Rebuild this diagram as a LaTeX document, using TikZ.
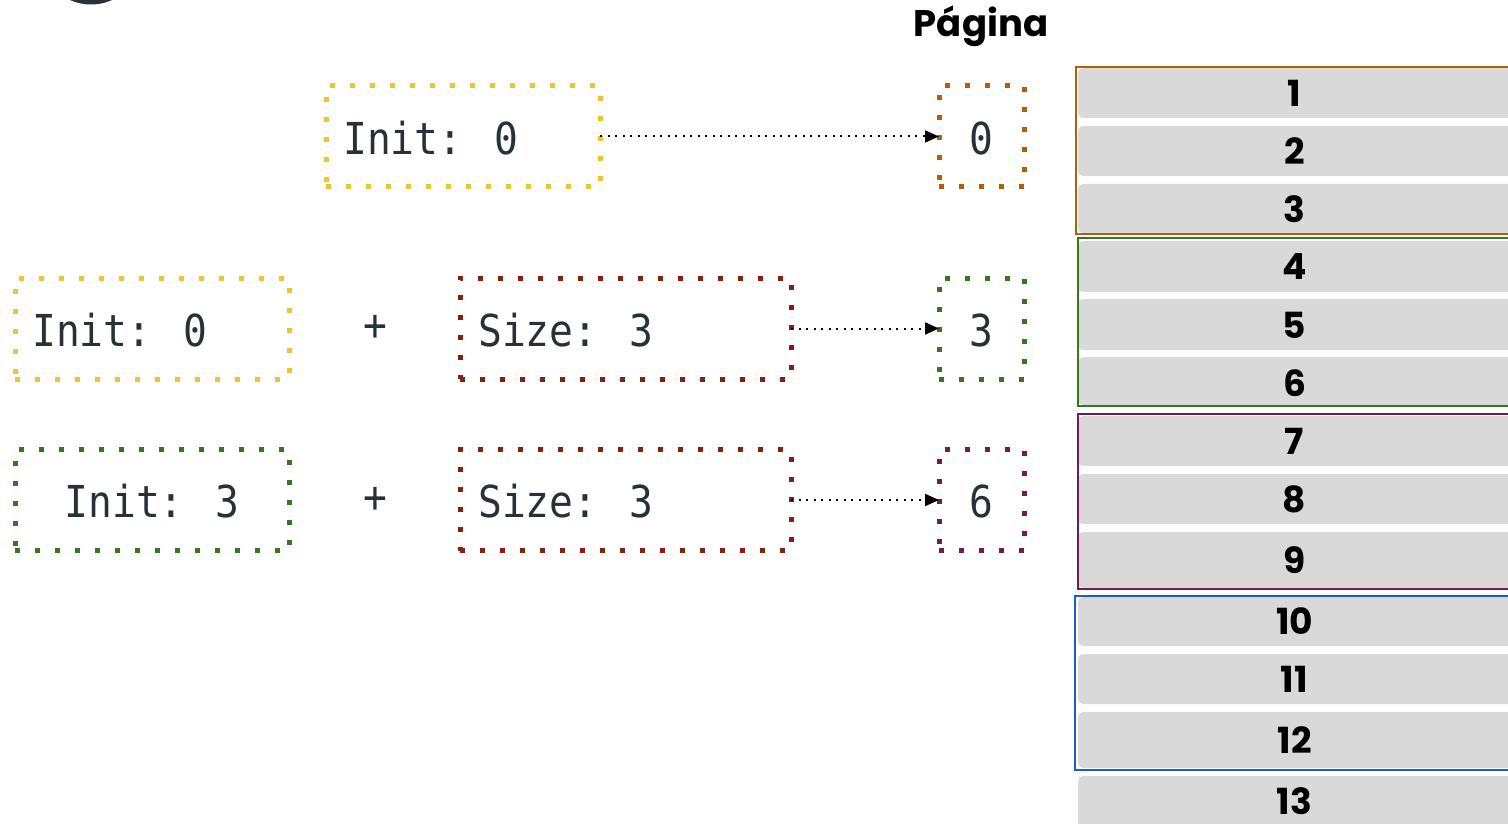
\documentclass[tikz,border=0pt]{standalone}
\usepackage{fontspec}
\newfontfamily\monof{DejaVu Sans Mono}[FakeStretch=0.9]
\newfontfamily\popf{Poppins}
\usetikzlibrary{arrows.meta}
\definecolor{txt}{HTML}{263238}
\definecolor{ylw}{HTML}{F1C232}
\definecolor{brn}{HTML}{85200C}
\definecolor{grn}{HTML}{38761D}
\definecolor{org}{HTML}{B45F06}
\definecolor{pur}{HTML}{741B47}
\definecolor{blu}{HTML}{1A5AD7}
\definecolor{rowgray}{HTML}{D9D9D9}
\tikzset{
  dbox/.style={line width=5pt, dash pattern=on 5pt off 15pt, minimum height=101pt, inner sep=0pt, outer sep=0pt},
  wide/.style={minimum width=274pt},
  wider/.style={minimum width=331pt},
  small/.style={minimum width=85pt},
  mono/.style={font=\monof\fontsize{44}{50}\selectfont, text=txt, inner sep=0pt},
  arr/.style={line width=2pt, dash pattern=on 2pt off 5.5pt, -{Triangle[length=14pt,width=12pt]}, shorten >=0pt},
  rowbox/.style={fill=rowgray, rounded corners=5pt},
  grp/.style={line width=2pt},
  num/.style={font=\popf\bfseries\fontsize{36}{40}\selectfont, text=black, inner sep=0pt},
}
\begin{document}
\begin{tikzpicture}[x=1pt,y=-1pt]
\useasboundingbox (0,0) rectangle (1508,824);
\clip (0,0) rectangle (1508,824);
% top-left partial dark shape
\fill[txt] (91,-46.5) circle (51);
% header
\node[font=\popf\bfseries\fontsize{37}{42}\selectfont, anchor=base, inner sep=0pt] (hdr) at (981,37) {Página};
% row 1
\node[dbox, wide, draw=ylw] (i1) at (463,136.5) {};
\node[mono, anchor=west] (i1t) at (343,138) {Init: 0};
\node[dbox, small, draw=org] (p0) at (981.5,136.5) {};
\node[mono] (p0t) at (981.5,138) {0};
\draw[arr] (i1.east) -- (p0.west);
% row 2
\node[dbox, wide, draw=ylw] (i2) at (152,328.5) {};
\node[mono, anchor=west] (i2t) at (32,330) {Init: 0};
\node[mono] (plus1) at (375,328) {+};
\node[dbox, wider, draw=brn] (s2) at (625.5,328.5) {};
\node[mono, anchor=west] (s2t) at (478,330) {Size: 3};
\node[dbox, small, draw=grn] (p3) at (981.5,328.5) {};
\node[mono] (p3t) at (981.5,330) {3};
\draw[arr] (s2.east) -- (p3.west);
% row 3
\node[dbox, wide, draw=grn] (i3) at (152,500) {};
\node[mono] (i3t) at (152,501.5) {Init: 3};
\node[mono] (plus2) at (375,500) {+};
\node[dbox, wider, draw=brn] (s3) at (625.5,500) {};
\node[mono, anchor=west] (s3t) at (478,501.5) {Size: 3};
\node[dbox, small, draw=pur] (p6) at (981.5,500) {};
\node[mono] (p6t) at (981.5,501.5) {6};
\draw[arr] (s3.east) -- (p6.west);
% page rows
\foreach \n/\a/\b in {1/68/118, 2/126/176, 3/184/233, 4/241/292, 5/299/350, 6/357/405, 7/416/466, 8/474/524, 9/532/588, 10/597/646, 11/654/704, 12/712/768, 13/776/832}{
  \fill[rowbox] (1078,\a) rectangle (1520,\b);
}
\foreach \n/\y in {1/93, 2/151, 3/209, 4/267, 5/325, 6/383, 7/441, 8/499, 9/560, 10/621, 11/679, 12/740, 13/801}{
  \node[num] (r\n) at (1294.5,\y) {\n};
}
% group boxes
\draw[grp, org] (1520,67) -- (1076,67) -- (1076,234) -- (1520,234);
\draw[grp, grn] (1520,238) -- (1078,238) -- (1078,406) -- (1520,406);
\draw[grp, pur] (1520,414) -- (1078,414) -- (1078,589) -- (1520,589);
\draw[grp, blu] (1520,596) -- (1075,596) -- (1075,770) -- (1520,770);
\end{tikzpicture}
\end{document}
